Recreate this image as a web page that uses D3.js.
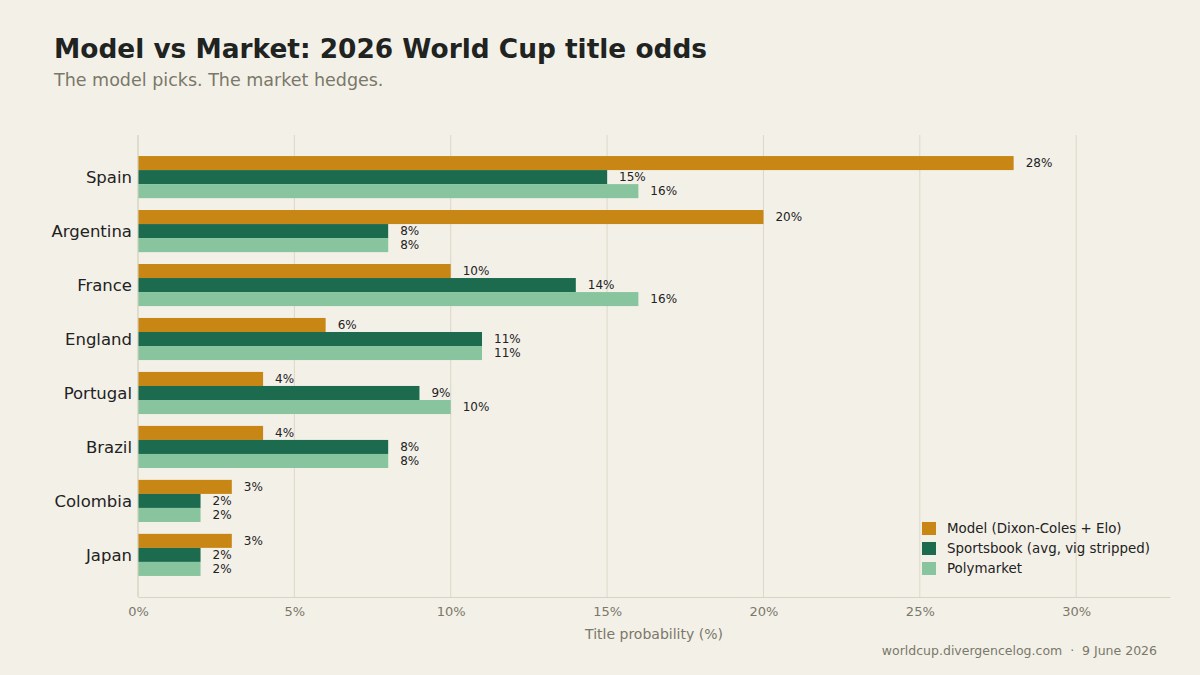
<!DOCTYPE html>
<html>
<head>
<meta charset="utf-8">
<script src="https://cdn.jsdelivr.net/npm/d3@7"></script>
<style>
  body { margin: 0; background: #f3f0e8; }
  text { font-family: "DejaVu Sans", sans-serif; }
</style>
</head>
<body>
<div id="chart"></div>
<script>
const width = 1200
const height = 675
const margin = {top: 135, bottom: 78, left: 138, right: 30}

// datos
const teams = ["Spain", "Argentina", "France", "England", "Portugal", "Brazil", "Colombia", "Japan"]
const model = [28, 20, 10, 6, 4, 4, 3, 3]
const sportsbook = [15, 8, 14, 11, 9, 8, 2, 2]
const polymarket = [16, 8, 16, 11, 10, 8, 2, 2]
const seriesNames = ["Model (Dixon-Coles + Elo)", "Sportsbook (avg, vig stripped)", "Polymarket"]
const seriesColors = ["#c88715", "#1c6b4f", "#88c49e"]
const xTicks = [0, 5, 10, 15, 20, 25, 30]

const series = [model, sportsbook, polymarket]
const barH = 0.26  // alto de barra en unidades de categoria

const svg = d3.select("#chart").append("svg").attr("width", width).attr("height", height)
svg.append("rect").attr("width", width).attr("height", height).attr("fill", "#f3f0e8")

const x = d3.scaleLinear().domain([0, 33]).range([margin.left, width - margin.right])
const y = d3.scaleLinear().domain([-0.78, teams.length - 1 + 0.78]).range([margin.top, height - margin.bottom])

// grid
svg.append("g").selectAll("line").data(xTicks).join("line")
    .attr("x1", d => x(d)).attr("x2", d => x(d))
    .attr("y1", margin.top).attr("y2", height - margin.bottom)
    .attr("stroke", "#dcd8c6").attr("stroke-width", 1)

// barras
series.forEach((vals, s) => {
    const g = svg.append("g")
    g.selectAll("rect").data(vals).join("rect")
        .attr("x", x(0))
        .attr("y", (d, i) => y(i + (s - 1) * barH - barH / 2))
        .attr("width", d => x(d) - x(0))
        .attr("height", y(barH) - y(0))
        .attr("fill", seriesColors[s])
    g.selectAll("text").data(vals).join("text")
        .attr("x", d => x(d) + 12)
        .attr("y", (d, i) => y(i + (s - 1) * barH))
        .attr("dy", "0.35em")
        .attr("font-size", 12)
        .attr("fill", "#222")
        .text(d => d + "%")
})

// ejes
const xAxis = d3.axisBottom(x).tickValues(xTicks).tickFormat(d => d + "%").tickSize(0).tickPadding(10)
const xAxisGroup = svg.append("g").attr("transform", `translate(0, ${height - margin.bottom})`).call(xAxis)
xAxisGroup.select(".domain").attr("stroke", "#d8d4c2")
xAxisGroup.selectAll("text").attr("font-size", 13).attr("fill", "#7a7868").attr("font-family", "DejaVu Sans")

const yAxis = d3.axisLeft(y).tickValues(d3.range(teams.length)).tickFormat(i => teams[i]).tickSize(0).tickPadding(6)
const yAxisGroup = svg.append("g").attr("transform", `translate(${margin.left}, 0)`).call(yAxis)
yAxisGroup.select(".domain").attr("stroke", "#d8d4c2").attr("d", `M0,${margin.top}V${height - margin.bottom}`)
yAxisGroup.selectAll("text").attr("font-size", 16.5).attr("fill", "#222").attr("font-family", "DejaVu Sans")

// titulos
svg.append("text").attr("x", 54).attr("y", 58).attr("font-size", 26.4).attr("font-weight", "bold")
    .attr("fill", "#20231f").text("Model vs Market: 2026 World Cup title odds")
svg.append("text").attr("x", 54).attr("y", 86).attr("font-size", 17.5)
    .attr("fill", "#7a7868").text("The model picks. The market hedges.")

svg.append("text").attr("x", (x.range()[0] + x.range()[1]) / 2).attr("y", 639)
    .attr("text-anchor", "middle").attr("font-size", 14).attr("fill", "#7a7868").text("Title probability (%)")
svg.append("text").attr("x", 1157).attr("y", 655).attr("text-anchor", "end")
    .attr("font-size", 12.5).attr("fill", "#7a7868").text("worldcup.divergencelog.com\u00a0\u00a0·\u00a0\u00a09 June 2026")

// leyenda
const legend = svg.append("g").attr("transform", "translate(922, 528)")
seriesNames.forEach((name, i) => {
    legend.append("rect").attr("x", 0).attr("y", i * 20 - 6).attr("width", 14).attr("height", 13).attr("fill", seriesColors[i])
    legend.append("text").attr("x", 25).attr("y", i * 20).attr("dy", "0.35em")
        .attr("font-size", 13.4).attr("fill", "#222").text(name)
})
</script>
</body>
</html>
